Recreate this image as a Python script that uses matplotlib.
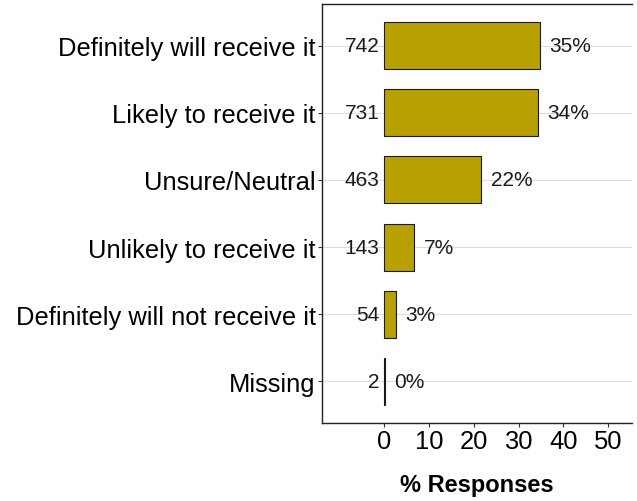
import matplotlib
matplotlib.use("Agg")
import matplotlib.pyplot as plt

categories = ["Definitely will receive it", "Likely to receive it", "Unsure/Neutral",
              "Unlikely to receive it", "Definitely will not receive it", "Missing"]
counts = [742, 731, 463, 143, 54, 2]
total = sum(counts)
percents = [c / total * 100 for c in counts]
xticks = [0, 10, 20, 30, 40, 50]

plt.rcParams['font.family'] = ['Liberation Sans', 'DejaVu Sans']

fig = plt.figure(figsize=(6.37, 5.02), dpi=100)
ax = fig.add_axes([322/637, 1 - 424/502, (632 - 322)/637, (424 - 5)/502])

ypos = list(range(len(categories)))
ax.barh(ypos, percents, height=0.7, color="#B8A000", edgecolor="#1a1a1a", linewidth=0.8, zorder=3)

for y, c, p in zip(ypos, counts, percents):
    ax.annotate(str(c), (0, y), xytext=(-3.5, 0), textcoords="offset points",
                ha="right", va="center", fontsize=15, color="#1a1a1a")
    ax.annotate(f"{round(p)}%", (p, y), xytext=(7, 0), textcoords="offset points",
                ha="left", va="center", fontsize=15, color="#1a1a1a")

ax.set_yticks(ypos)
ax.set_yticklabels(categories, fontsize=18.4, color="black")
ax.set_xticks(xticks)
ax.set_xticklabels([str(t) for t in xticks], fontsize=18.4, color="black")
ax.set_xlim(-13.9, 55.3)
ax.set_ylim(5.62, -0.62)
ax.set_xlabel("% Responses", fontsize=17, fontweight="bold", labelpad=14)

ax.grid(axis="y", color="#dddddd", linewidth=0.8, zorder=0)
ax.grid(axis="x", visible=False)
for s in ["left", "bottom", "top"]:
    ax.spines[s].set_color("#222222")
    ax.spines[s].set_linewidth(1.0)
ax.spines["right"].set_visible(False)
ax.tick_params(axis="both", direction="out", length=3, width=0.8, color="#333333", pad=1.5)

fig.savefig("out.png", dpi=100)
